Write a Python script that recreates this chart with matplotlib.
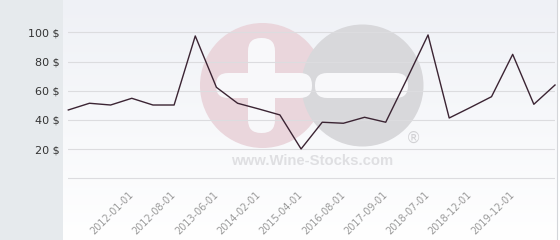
import matplotlib
matplotlib.use("Agg")
import matplotlib.pyplot as plt
import numpy as np
from matplotlib.patches import Rectangle, Circle, FancyBboxPatch

# ---- data ----
prices = [46.8, 51.4, 50.2, 54.8, 50.2, 50.2, 97.5, 62.3, 51.4, 47.5, 43.4, 20.1,
          38.4, 37.7, 41.8, 38.4, 68.0, 98.2, 41.3, 48.5, 55.9, 84.9, 50.7, 63.9]
tick_labels = ["2012-01-01", "2012-08-01", "2013-06-01", "2014-02-01", "2015-04-01",
               "2016-08-01", "2017-09-01", "2018-07-01", "2018-12-01", "2019-12-01"]
tick_index = [3, 5, 7, 9, 11, 13, 15, 17, 19, 21]
y_ticks = [0, 20, 40, 60, 80, 100]
y_tick_labels = ["", "20 $", "40 $", "60 $", "80 $", "100 $"]

W, H = 560, 240
fig = plt.figure(figsize=(W / 100, H / 100), dpi=100, facecolor="white")

# ---- background / decoration axes in pixel coords ----
bg = fig.add_axes([0, 0, 1, 1])
bg.set_xlim(0, W)
bg.set_ylim(H, 0)
bg.axis("off")
bg.add_patch(Rectangle((0, 0), 63, H, facecolor="#e6eaed", edgecolor="none"))
grad = np.linspace(0, 1, 256)[:, None]
top = np.array([239, 241, 246]) / 255
bot = np.array([255, 255, 255]) / 255
img = top[None, None, :] * (1 - grad[:, :, None]) + bot[None, None, :] * grad[:, :, None]
bg.imshow(img, extent=(63, 557, H, 0), aspect="auto", zorder=0)
bg.plot([557, 557], [0, H], color="#d4d6da", lw=0.8, zorder=1)

# watermark
bg.add_patch(Circle((262.5, 85.5), 62.5, facecolor="#ead6dc", edgecolor="none", zorder=1))
bg.add_patch(Circle((362.5, 85.5), 61, facecolor="#d8d8db", edgecolor="none", zorder=1.1))
wcol = "#f8f8fa"
bg.add_patch(FancyBboxPatch((248, 38), 27, 95,
                            boxstyle="round,pad=0,rounding_size=13",
                            facecolor=wcol, edgecolor="none", zorder=1.2))
bg.add_patch(FancyBboxPatch((216, 73), 96, 25,
                            boxstyle="round,pad=0,rounding_size=12",
                            facecolor=wcol, edgecolor="none", zorder=1.2))
bg.add_patch(FancyBboxPatch((315, 73), 93, 25,
                            boxstyle="round,pad=0,rounding_size=12",
                            facecolor=wcol, edgecolor="none", zorder=1.2))
bg.text(311.7, 160.7, "www.Wine-Stocks.com", family="Liberation Sans", weight="bold",
        fontsize=10.7, color="#dfdfe2", ha="center", va="center", zorder=1.3)
bg.text(413, 138, "®", family="DejaVu Sans", fontsize=11, color="#d2d2d5",
        ha="center", va="center", zorder=1.3)

# ---- main axes ----
x0, x1 = 68.3, 555.0
ytop_px, ybot_px = 10.0, 185.0
ax = fig.add_axes([x0 / W, 1 - ybot_px / H, (x1 - x0) / W, (ybot_px - ytop_px) / H])
ax.patch.set_alpha(0)
n = len(prices)
ax.set_xlim(0, n - 1)
ppu = 1.46
ax.set_ylim(-(ybot_px - 178.3) / ppu, (178.3 - ytop_px) / ppu)
for s in ax.spines.values():
    s.set_visible(False)
ax.set_yticks(y_ticks)
ax.set_yticklabels(y_tick_labels)
ax.yaxis.grid(True, color="#dcdcdf", lw=0.8)
ax.set_axisbelow(True)
ax.tick_params(axis="y", length=0, pad=6, labelsize=8, labelcolor="#333333")
ax.set_xticks(tick_index)
ax.set_xticklabels(tick_labels, rotation=45, ha="right", va="center",
                   rotation_mode="anchor")
ax.tick_params(axis="x", length=0, pad=6, labelsize=7, labelcolor="#9a9a9a")
ax.plot(range(n), prices, color="#3b2433", lw=1.0, clip_on=False, zorder=3)

fig.savefig("out.png", dpi=100)
